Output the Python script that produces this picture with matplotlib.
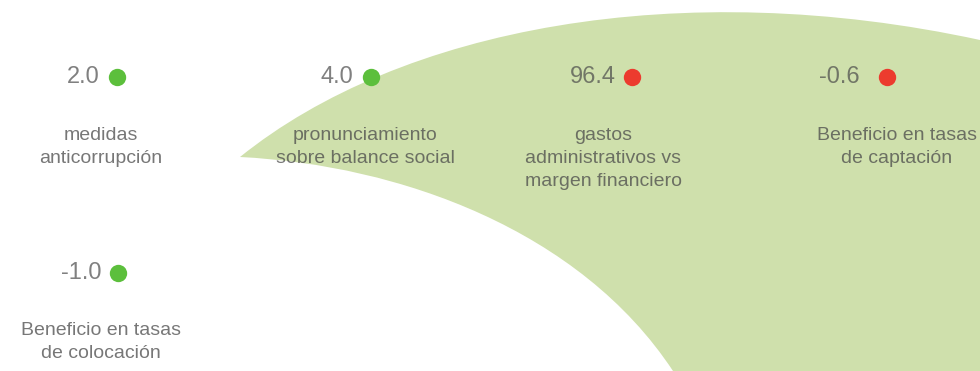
import numpy as np
import matplotlib.pyplot as plt
from matplotlib.path import Path
from matplotlib.patches import PathPatch

plt.rcParams['font.family'] = ['Liberation Sans', 'DejaVu Sans']

# indicator values and their labels
values = [2.0, 4.0, 96.4, -0.6, -1.0]
value_text = ['2.0', '4.0', '96.4', '-0.6', '-1.0']
labels = ['medidas\nanticorrupción',
          'pronunciamiento\nsobre balance social',
          'gastos\nadministrativos vs\nmargen financiero',
          'Beneficio en tasas\nde captación',
          'Beneficio en tasas\nde colocación']
status = ['ok', 'ok', 'bad', 'bad', 'ok']

# layout (pixels, y down)
label_x = [101, 365, 603, 897, 101]
value_right = [100, 353, 616, 860, 101]
dot_x = [117, 371, 632, 887, 118]
value_y = [77, 77, 77, 77, 273]
label_y = [127, 127, 127, 127, 322]

dot_colors = {'ok': '#5cbf3c', 'bad': '#ec3b2e'}
text_color = '#4a4a4a'

fig = plt.figure(figsize=(9.8, 3.71), dpi=100)
ax = fig.add_axes([0, 0, 1, 1])
ax.set_xlim(0, 980)
ax.set_ylim(371, 0)
ax.axis('off')

# big green leaf shape in the background
verts = [(240, 157), (400, 28), (680, -25), (980, 40),
         (980, 371), (673, 371),
         (580, 230), (400, 165), (240, 157)]
codes = [Path.MOVETO, Path.CURVE4, Path.CURVE4, Path.CURVE4,
         Path.LINETO, Path.LINETO,
         Path.CURVE4, Path.CURVE4, Path.CURVE4]
ax.add_patch(PathPatch(Path(verts, codes), facecolor='#cfe0ac', edgecolor='none', zorder=0))

for i in range(len(values)):
    ax.text(value_right[i], value_y[i], value_text[i], ha='right', va='center',
            fontsize=17, color=text_color, alpha=0.7, zorder=2)
    ax.plot(dot_x[i], value_y[i], 'o', markersize=12.5, color=dot_colors[status[i]],
            markeredgewidth=0, zorder=3)
    ax.text(label_x[i], label_y[i], labels[i], ha='center', va='top', fontsize=14,
            color=text_color, alpha=0.75, linespacing=1.45, zorder=2)

fig.savefig('out.png', dpi=100)
